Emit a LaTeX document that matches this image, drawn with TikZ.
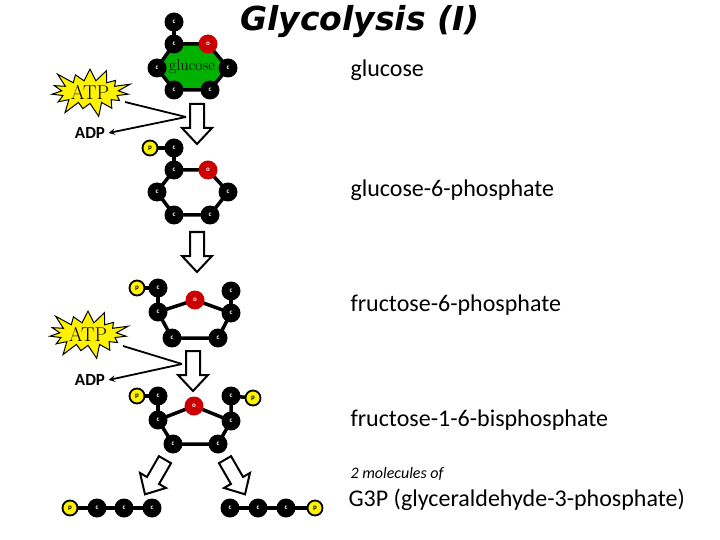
\documentclass[tikz,border=0pt]{standalone}
\usepackage{fontspec}
\setmainfont{Carlito}
\newfontfamily\titlefont{DejaVu Sans}
\newfontfamily\lmr{Latin Modern Roman}
\usetikzlibrary{shapes.symbols}
\tikzset{
 atom/.style={circle,fill=black,minimum size=19pt,inner sep=0pt,text=white,font=\fontsize{7}{7}\selectfont\bfseries},
 oxy/.style={atom,fill=red!80!black},
 phos/.style={circle,fill=yellow,draw=black,line width=1.8pt,minimum size=15pt,inner sep=0pt,font=\fontsize{7}{7}\selectfont\bfseries},
 bond/.style={line width=3.5pt},
 blkstyle/.style={draw=black,fill=white,line width=2pt,line join=miter},
 star/.style={starburst,fill=yellow,draw=black,line width=1pt,starburst points=15,starburst point height=16pt,font=\lmr\fontsize{20}{20}\selectfont,inner sep=1pt},
 lab/.style={font=\fontsize{24}{24}\selectfont,anchor=west},
 adp/.style={font=\bfseries\fontsize{17}{17}\selectfont},
 conn/.style={line width=1.8pt}
}
\newcommand\blockarrow[3]{\draw[blkstyle,shift={(#1,#2)},rotate=#3] (-7,-20)--(7,-20)--(7,4)--(15,4)--(0,20)--(-15,4)--(-7,4)--cycle;}
\begin{document}
\begin{tikzpicture}[x=1pt,y=-1pt]
\useasboundingbox (0,0) rectangle (720,540);
% title
\node[font=\titlefont\bfseries\itshape\fontsize{33}{33}\selectfont] (title) at (360,22) {Glycolysis (I)};
% glucose
\fill[green!70!black] (174,44)--(208,44)--(228,68)--(210,90)--(174,90)--(157,68)--cycle;
\draw[bond] (174,22)--(174,44);
\draw[bond] (174,44)--(208,44)--(228,68)--(210,90)--(174,90)--(157,68)--cycle;
\node[atom] (g1) at (174,22) {c};
\node[atom] (g2) at (174,44) {c};
\node[oxy] (go) at (208,44) {o};
\node[atom] (g3) at (157,68) {c};
\node[atom] (g4) at (228,68) {c};
\node[atom] (g5) at (174,90) {c};
\node[atom] (g6) at (210,90) {c};
\node[font=\lmr\fontsize{16}{16}\selectfont] (gl) at (192,67) {glucose};
\node[lab] (l1) at (347,70) {glucose};
% step 1
\blockarrow{197}{124}{0}
\node[star] (atp1) at (90,92) {ATP};
\node[adp] (adp1) at (90,133) {ADP};
\coordinate (k1) at (186,117);
\draw[conn] (125,102) -- (k1);
\draw[conn,-stealth] (k1) -- (adp1.east);
% G6P
\draw[bond] (150,148)--(174,148)--(174,170);
\draw[bond] (174,170)--(208,170)--(228,192)--(210,215)--(174,215)--(157,192)--cycle;
\node[phos] (p1) at (150,148) {p};
\node[atom] (h1) at (174,148) {c};
\node[atom] (h2) at (174,170) {c};
\node[oxy] (ho) at (208,170) {o};
\node[atom] (h3) at (157,192) {c};
\node[atom] (h4) at (228,192) {c};
\node[atom] (h5) at (174,215) {c};
\node[atom] (h6) at (210,215) {c};
\node[lab] (l2) at (347,190) {glucose-6-phosphate};
% step 2
\blockarrow{197}{252}{0}
% F6P
\draw[bond] (137,288)--(158,288)--(158,312);
\draw[bond] (231,291)--(231,313);
\draw[bond] (158,312)--(195,300)--(231,313)--(218,338)--(172,338)--cycle;
\node[phos] (p2) at (137,288) {p};
\node[atom] (f1) at (158,288) {c};
\node[atom] (f2) at (158,312) {c};
\node[oxy] (fo) at (195,300) {o};
\node[atom] (f3) at (231,291) {c};
\node[atom] (f4) at (231,313) {c};
\node[atom] (f5) at (172,338) {c};
\node[atom] (f6) at (218,338) {c};
\node[lab] (l3) at (347,305) {fructose-6-phosphate};
% step 3
\blockarrow{193}{371}{0}
\node[star] (atp2) at (88,334) {ATP};
\node[adp] (adp2) at (90,380) {ADP};
\coordinate (k2) at (182,364);
\draw[conn] (123,346) -- (k2);
\draw[conn,-stealth] (k2) -- (adp2.east);
% F16BP
\draw[bond] (137,396)--(158,396)--(158,420);
\draw[bond] (253,398)--(231,396)--(231,421);
\draw[bond] (158,420)--(194,406)--(231,421)--(218,444)--(173,444)--cycle;
\node[phos] (p3) at (137,396) {p};
\node[atom] (b1) at (158,396) {c};
\node[atom] (b2) at (158,420) {c};
\node[oxy] (bo) at (194,406) {o};
\node[atom] (b3) at (231,396) {c};
\node[phos] (p4) at (253,398) {p};
\node[atom] (b4) at (231,421) {c};
\node[atom] (b5) at (173,444) {c};
\node[atom] (b6) at (218,444) {c};
\node[lab] (l4) at (347,420) {fructose-1-6-bisphosphate};
% split arrows
\blockarrow{155}{477}{-30}
\blockarrow{235}{477}{30}
% G3P
\draw[bond] (70,508)--(152,508);
\draw[bond] (230,508)--(315,508);
\node[phos] (q1) at (70,508) {p};
\node[atom] (c1) at (97,508) {c};
\node[atom] (c2) at (124,508) {c};
\node[atom] (c3) at (152,508) {c};
\node[atom] (c4) at (230,508) {c};
\node[atom] (c5) at (258,508) {c};
\node[atom] (c6) at (286,508) {c};
\node[phos] (q2) at (315,508) {p};
\node[font=\itshape\fontsize{16}{16}\selectfont,anchor=west] (mol) at (347,474) {2 molecules of};
\node[lab] (l5) at (345,500) {G3P (glyceraldehyde-3-phosphate)};
\end{tikzpicture}
\end{document}
